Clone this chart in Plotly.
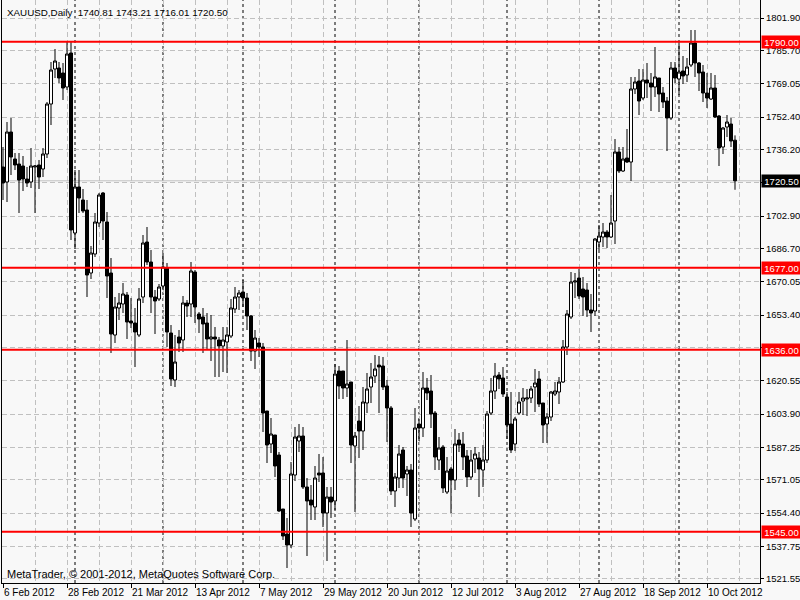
import plotly.graph_objects as go

# ---- data (XAUUSD daily, bar index 0 = 6 Feb 2012) ----
opens = [
    1727.4, 1719.9, 1744.9, 1731.4, 1728.9, 1727.9, 1721.4, 1719.9, 1727.4, 1728.4,
    1726.4, 1733.9, 1758.9, 1776.4, 1776.9, 1774.4, 1767.4, 1784.4, 1694.4, 1717.4,
    1710.9, 1705.9, 1674.4, 1683.9, 1699.4, 1714.4, 1699.9, 1674.4, 1643.4, 1656.9,
    1658.9, 1663.4, 1650.4, 1649.4, 1643.4, 1662.4, 1689.9, 1679.9, 1662.4, 1661.4,
    1667.9, 1676.9, 1644.4, 1620.9, 1642.4, 1640.9, 1659.4, 1658.9, 1674.9, 1653.9,
    1652.4, 1649.4, 1641.4, 1642.4, 1640.9, 1637.9, 1639.9, 1642.9, 1656.4, 1662.4,
    1664.9, 1661.9, 1652.9, 1635.4, 1639.4, 1637.4, 1605.4, 1588.9, 1593.4, 1583.4,
    1556.4, 1543.9, 1538.4, 1573.4, 1590.4, 1592.9, 1567.4, 1560.9, 1557.4, 1574.4,
    1574.4, 1554.4, 1562.4, 1560.4, 1625.4, 1625.4, 1616.9, 1619.9, 1587.9, 1600.4,
    1595.4, 1609.4, 1617.4, 1622.9, 1628.4, 1627.9, 1617.9, 1606.9, 1565.4, 1571.9,
    1585.9, 1573.9, 1575.9, 1551.4, 1598.9, 1596.9, 1616.9, 1615.4, 1604.4, 1580.9,
    1587.4, 1564.9, 1576.4, 1570.9, 1590.9, 1588.9, 1582.9, 1572.4, 1581.4, 1581.9,
    1575.9, 1580.9, 1604.4, 1615.4, 1623.4, 1621.9, 1612.4, 1598.9, 1588.9, 1604.4,
    1610.4, 1611.4, 1611.9, 1617.4, 1621.4, 1609.4, 1598.9, 1602.4, 1613.9, 1614.9,
    1619.9, 1637.4, 1652.4, 1669.9, 1671.9, 1666.4, 1665.9, 1655.9, 1655.4, 1689.9,
    1692.4, 1694.9, 1692.4, 1700.4, 1734.9, 1725.4, 1731.9, 1729.9, 1766.4, 1770.4,
    1761.9, 1770.9, 1769.4, 1767.4, 1771.9, 1764.4, 1760.4, 1751.9, 1776.9, 1771.4,
    1775.4, 1773.4, 1778.4, 1789.4, 1779.4, 1774.9, 1764.4, 1761.4, 1766.9, 1752.9,
    1737.4, 1747.4, 1748.9, 1740.81,
]
highs = [
    1737.4, 1749.9, 1751.9, 1734.4, 1734.4, 1732.9, 1727.4, 1736.9, 1728.4, 1730.9,
    1736.9, 1759.9, 1779.9, 1786.4, 1779.9, 1779.4, 1789.9, 1790.4, 1725.9, 1725.9,
    1716.4, 1710.9, 1687.9, 1704.4, 1714.4, 1714.9, 1704.9, 1681.9, 1662.4, 1664.4,
    1669.4, 1664.9, 1661.9, 1656.9, 1666.9, 1693.4, 1697.4, 1685.9, 1665.9, 1668.9,
    1684.4, 1679.4, 1648.4, 1643.4, 1645.9, 1662.9, 1660.9, 1679.9, 1675.9, 1654.9,
    1656.9, 1654.4, 1653.4, 1647.4, 1642.4, 1647.4, 1647.4, 1661.4, 1667.4, 1665.9,
    1671.4, 1664.4, 1653.4, 1645.9, 1641.9, 1639.4, 1605.4, 1601.9, 1593.4, 1584.9,
    1556.4, 1551.9, 1579.9, 1597.4, 1598.9, 1597.4, 1571.9, 1568.4, 1577.9, 1583.9,
    1582.4, 1567.4, 1567.4, 1628.9, 1627.9, 1625.4, 1640.9, 1619.9, 1594.9, 1607.9,
    1617.4, 1624.4, 1629.4, 1633.4, 1632.9, 1632.4, 1620.9, 1607.9, 1574.4, 1588.4,
    1587.4, 1577.9, 1578.9, 1606.9, 1601.4, 1624.9, 1621.9, 1623.4, 1605.4, 1592.4,
    1588.4, 1582.4, 1577.4, 1596.4, 1594.4, 1594.9, 1585.9, 1585.9, 1587.4, 1584.9,
    1588.4, 1605.4, 1621.9, 1629.4, 1624.9, 1627.4, 1614.9, 1614.9, 1602.4, 1614.9,
    1616.9, 1616.4, 1617.9, 1626.4, 1625.4, 1609.4, 1604.4, 1615.4, 1619.9, 1622.4,
    1640.9, 1655.9, 1674.9, 1674.4, 1676.4, 1672.4, 1669.4, 1663.9, 1691.9, 1698.4,
    1699.4, 1695.9, 1713.4, 1741.4, 1737.4, 1737.4, 1746.4, 1772.4, 1772.4, 1776.4,
    1776.4, 1779.4, 1774.4, 1787.4, 1771.9, 1767.4, 1762.4, 1779.9, 1779.9, 1789.4,
    1782.9, 1781.9, 1795.9, 1795.9, 1779.9, 1778.4, 1774.4, 1774.4, 1773.4, 1753.4,
    1747.4, 1753.4, 1751.9, 1743.21,
]
lows = [
    1710.9, 1709.9, 1723.4, 1725.9, 1704.4, 1715.4, 1717.4, 1716.9, 1704.4, 1716.4,
    1722.4, 1731.9, 1748.4, 1771.9, 1769.4, 1760.9, 1765.9, 1690.9, 1686.4, 1704.4,
    1704.4, 1662.4, 1671.4, 1682.4, 1697.4, 1690.9, 1661.9, 1634.4, 1639.4, 1650.9,
    1654.4, 1641.4, 1646.9, 1627.4, 1642.4, 1659.4, 1678.4, 1654.4, 1643.9, 1660.4,
    1665.9, 1637.4, 1617.9, 1617.4, 1634.9, 1634.9, 1652.4, 1652.4, 1649.4, 1644.4,
    1634.4, 1635.9, 1630.4, 1622.4, 1622.4, 1624.9, 1624.4, 1641.9, 1654.4, 1655.9,
    1657.4, 1645.9, 1630.4, 1626.4, 1632.4, 1594.9, 1579.4, 1584.4, 1572.4, 1554.9,
    1540.9, 1526.9, 1536.9, 1570.4, 1584.9, 1566.4, 1532.9, 1550.9, 1550.9, 1569.9,
    1547.4, 1530.4, 1551.9, 1555.9, 1611.4, 1611.4, 1612.4, 1579.4, 1554.9, 1581.9,
    1585.9, 1604.4, 1609.4, 1619.4, 1604.4, 1615.9, 1589.9, 1563.4, 1557.4, 1566.9,
    1566.9, 1562.9, 1547.4, 1550.4, 1590.4, 1592.4, 1610.9, 1596.9, 1575.9, 1575.9,
    1564.4, 1563.9, 1554.4, 1565.9, 1584.9, 1575.9, 1567.4, 1570.9, 1574.4, 1562.4,
    1567.4, 1579.4, 1603.4, 1611.4, 1616.4, 1612.4, 1591.4, 1584.4, 1585.4, 1603.4,
    1603.4, 1602.9, 1609.4, 1604.9, 1607.4, 1589.4, 1589.4, 1600.4, 1612.9, 1608.9,
    1619.4, 1633.4, 1651.4, 1661.9, 1661.4, 1652.9, 1652.4, 1644.9, 1652.9, 1685.9,
    1687.4, 1686.9, 1691.9, 1688.9, 1724.4, 1724.9, 1729.4, 1720.4, 1763.9, 1753.4,
    1760.9, 1761.9, 1755.4, 1762.4, 1754.9, 1756.9, 1735.4, 1750.9, 1769.4, 1763.4,
    1768.9, 1769.9, 1777.4, 1772.4, 1765.4, 1759.9, 1756.9, 1760.9, 1751.9, 1727.9,
    1733.9, 1742.4, 1737.4, 1716.01,
]
closes = [
    1719.4, 1744.9, 1732.4, 1728.4, 1720.9, 1721.4, 1719.4, 1727.9, 1727.9, 1722.4,
    1733.9, 1758.9, 1775.9, 1780.4, 1771.9, 1766.9, 1783.9, 1695.9, 1717.4, 1711.9,
    1705.4, 1673.4, 1684.4, 1699.9, 1713.4, 1700.4, 1672.9, 1643.9, 1657.4, 1659.4,
    1663.9, 1649.9, 1649.4, 1644.9, 1661.4, 1689.4, 1679.9, 1662.4, 1660.4, 1667.4,
    1677.4, 1644.9, 1621.4, 1629.9, 1639.4, 1659.4, 1657.9, 1675.4, 1657.4, 1651.4,
    1648.9, 1641.4, 1642.4, 1641.4, 1637.9, 1640.9, 1643.4, 1656.9, 1662.4, 1664.4,
    1661.9, 1652.9, 1635.4, 1641.9, 1637.4, 1604.4, 1588.4, 1593.9, 1577.9, 1555.4,
    1542.9, 1538.4, 1573.9, 1592.4, 1592.9, 1567.4, 1560.4, 1558.4, 1571.9, 1573.4,
    1554.4, 1562.4, 1559.9, 1623.9, 1617.9, 1616.9, 1618.9, 1588.4, 1592.9, 1595.4,
    1609.9, 1616.4, 1622.4, 1626.4, 1627.4, 1617.4, 1606.9, 1565.4, 1572.4, 1583.9,
    1571.9, 1575.9, 1554.4, 1596.9, 1596.9, 1616.9, 1614.4, 1603.9, 1582.4, 1586.9,
    1566.9, 1575.4, 1570.9, 1588.9, 1588.4, 1582.4, 1572.4, 1580.9, 1583.9, 1576.4,
    1580.9, 1603.9, 1615.4, 1622.9, 1621.4, 1613.9, 1598.4, 1585.9, 1601.4, 1609.9,
    1611.9, 1611.9, 1616.4, 1619.4, 1608.9, 1598.4, 1602.4, 1614.9, 1615.4, 1619.9,
    1637.4, 1653.9, 1669.9, 1670.4, 1662.9, 1662.4, 1655.9, 1654.4, 1691.4, 1692.9,
    1694.9, 1692.4, 1699.4, 1734.9, 1725.4, 1731.4, 1729.9, 1766.4, 1769.9, 1760.4,
    1770.9, 1769.4, 1767.4, 1772.4, 1763.9, 1759.9, 1751.9, 1776.9, 1771.9, 1774.9,
    1772.9, 1777.4, 1789.4, 1779.4, 1774.4, 1764.4, 1761.9, 1766.9, 1752.4, 1736.9,
    1746.9, 1749.9, 1740.4, 1720.50,
]

x_tick_bars = [0, 16, 32, 48, 64, 80, 96, 112, 128, 144, 160, 176]
x_tick_labels = ["6 Feb 2012", "28 Feb 2012", "21 Mar 2012", "13 Apr 2012",
                 "7 May 2012", "29 May 2012", "20 Jun 2012", "12 Jul 2012",
                 "3 Aug 2012", "27 Aug 2012", "18 Sep 2012", "10 Oct 2012"]
x_minor_bars = [8, 24, 40, 56, 72, 88, 104, 120, 136, 152, 168, 184]
month_start_bars = [18, 40, 60, 83, 104, 126, 149, 169]

y_grid_values = [1801.90, 1785.70, 1769.05, 1752.40, 1736.20, 1719.55, 1702.90,
                 1686.70, 1670.05, 1653.40, 1637.00, 1620.55, 1603.90, 1587.25,
                 1571.05, 1554.40, 1537.75, 1521.55]
y_tick_labels = ["1801.90", "1785.70", "1769.05", "1752.40", "1736.20", "", "1702.90",
                 "1686.70", "1670.05", "1653.40", "", "1620.55", "1603.90", "1587.25",
                 "1571.05", "1554.40", "1537.75", "1521.55"]

levels = [1790.00, 1677.00, 1636.00, 1545.00]
level_labels = ["1790.00", "1677.00", "1636.00", "1545.00"]
last_price = 1720.50
last_price_label = "1720.50"
title_text = "XAUUSD,Daily\u00a0\u00a01740.81 1743.21 1716.01 1720.50"
footer_text = "MetaTrader, \u00a9 2001-2012, MetaQuotes Software Corp."

FONT = "Liberation Sans"
BG = "#F8F8F8"
GRID = "#C0C0C0"

bars = list(range(len(opens)))

fig = go.Figure()
fig.add_trace(go.Candlestick(
    x=bars, open=opens, high=highs, low=lows, close=closes,
    increasing=dict(line=dict(color="black", width=1), fillcolor="white"),
    decreasing=dict(line=dict(color="black", width=1), fillcolor="black"),
    whiskerwidth=0, hoverinfo="skip", showlegend=False,
))

shapes = []
for b in month_start_bars:
    shapes.append(dict(type="line", xref="x", yref="paper", x0=b, x1=b, y0=0, y1=1,
                       line=dict(color="black", width=1, dash="3px,3px"), layer="below"))
shapes.append(dict(type="line", xref="paper", yref="y", x0=0, x1=1, y0=last_price, y1=last_price,
                   line=dict(color="#C0C0C0", width=1), layer="below"))
for lv in levels:
    shapes.append(dict(type="line", xref="paper", yref="y", x0=0, x1=1, y0=lv, y1=lv,
                       line=dict(color="#FF0000", width=2), layer="above"))

annotations = [
    dict(text=title_text, xref="paper", yref="paper", x=0, y=1, xanchor="left", yanchor="top",
         xshift=3, yshift=-5, showarrow=False, font=dict(family=FONT, size=9.8, color="black")),
    dict(text=footer_text, xref="paper", yref="paper", x=0, y=0, xanchor="left", yanchor="bottom",
         xshift=3, yshift=1, showarrow=False, font=dict(family=FONT, size=11, color="black")),
]
for lv, lab in zip(levels, level_labels):
    annotations.append(dict(text=lab, xref="paper", yref="y", x=1, y=lv, xanchor="left",
                            yanchor="middle", xshift=1, showarrow=False, bgcolor="#FF0000",
                            borderpad=0, width=39, height=12, align="center",
                            font=dict(family=FONT, size=9.5, color="white")))
annotations.append(dict(text=last_price_label, xref="paper", yref="y", x=1, y=last_price,
                        xanchor="left", yanchor="middle", xshift=1, showarrow=False,
                        bgcolor="black", borderpad=0, width=39, height=12, align="center",
                        font=dict(family=FONT, size=9.5, color="white")))

fig.update_layout(
    width=800, height=600,
    margin=dict(l=2, r=40, t=0, b=17, autoexpand=False),
    paper_bgcolor=BG, plot_bgcolor=BG,
    showlegend=False, boxgap=0.25, boxgroupgap=0,
    shapes=shapes, annotations=annotations,
    font=dict(family=FONT, size=10, color="black"),
    xaxis=dict(
        range=[-0.25, 189.25], rangeslider=dict(visible=False), automargin=False,
        tickmode="array", tickvals=x_tick_bars, ticktext=x_tick_labels, tickangle=0,
        ticklabelposition="outside right", ticks="outside", ticklen=4, tickcolor="black",
        showgrid=True, gridcolor=GRID, griddash="5px,3px", gridwidth=1,
        minor=dict(tickmode="array", tickvals=x_minor_bars, showgrid=True, gridcolor=GRID,
                   griddash="5px,3px", ticks=""),
        showline=True, linecolor="black", linewidth=1, zeroline=False,
        tickfont=dict(family=FONT, size=10, color="black"), fixedrange=True,
    ),
    yaxis=dict(
        range=[1519.4, 1810.9], side="right", automargin=False,
        tickmode="array", tickvals=y_grid_values, ticktext=y_tick_labels,
        ticks="outside", ticklen=3, tickcolor="black",
        showgrid=True, gridcolor=GRID, griddash="5px,3px", gridwidth=1,
        showline=True, mirror=True, linecolor="black", linewidth=1, zeroline=False,
        tickfont=dict(family=FONT, size=9.5, color="black"), fixedrange=True,
    ),
)

fig.write_html(
    "out.html",
    config={"displayModeBar": False},
    post_script="document.body.style.margin='0px';document.documentElement.style.overflow='hidden';",
)
